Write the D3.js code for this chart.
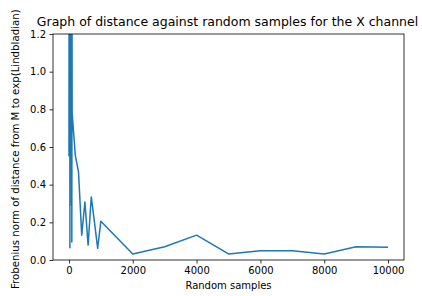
<!DOCTYPE html>
<html>
<head>
<meta charset="utf-8">
<script src="https://cdn.jsdelivr.net/npm/d3@7"></script>
<style>
  body { margin: 0; background: #fff; }
  svg text { font-family: "DejaVu Sans", sans-serif; fill: #000; }
</style>
</head>
<body>
<div id="graph"></div>
<script>
// samples (x) and Frobenius distance (y)
var samples = [1, 5, 10, 15, 20, 25, 30, 35, 40, 45, 50, 55, 60, 65, 70, 75, 80, 85, 90, 95, 100,
               200, 300, 400, 500, 600, 700, 800, 900, 1000,
               2000, 3000, 4000, 5000, 6000, 7000, 8000, 9000, 10000];
var distance = [0.55, 2.0, 0.7, 1.6, 0.6, 2.4, 0.065, 1.9, 0.75, 2.2, 0.6, 1.7, 0.9, 2.8, 0.62, 1.5, 0.29, 2.0, 0.095, 1.4, 0.78,
                0.555, 0.467, 0.132, 0.308, 0.079, 0.335, 0.2, 0.062, 0.206,
                0.032, 0.07, 0.132, 0.032, 0.049, 0.049, 0.032, 0.07, 0.068];
var xTicks = [0, 2000, 4000, 6000, 8000, 10000];
var yTicks = [0, 0.2, 0.4, 0.6, 0.8, 1.0, 1.2];

var width = 422, height = 296;
var margin = {top: 34, right: 18, bottom: 36, left: 53};
var w = width - margin.left - margin.right;
var h = height - margin.top - margin.bottom;

var x = d3.scaleLinear().domain([-500, 10500]).range([0, w]);
var y = d3.scaleLinear().domain([0, 1.2]).range([h, 0]);

var svg = d3.select("#graph").append("svg")
    .attr("width", width)
    .attr("height", height);

svg.append("defs").append("clipPath").attr("id", "clip")
  .append("rect").attr("width", w).attr("height", h);

var g = svg.append("g")
    .attr("transform", "translate(" + margin.left + "," + margin.top + ")");

var line = d3.line()
    .x(function(d, i) { return x(samples[i]); })
    .y(function(d) { return y(d); });

g.append("path")
    .datum(distance)
    .attr("clip-path", "url(#clip)")
    .attr("d", line)
    .style("fill", "none")
    .style("stroke", "#1f77b4")
    .style("stroke-width", 1.5)
    .style("stroke-linejoin", "round");

var xAxis = g.append("g")
    .attr("transform", "translate(0," + h + ")")
    .call(d3.axisBottom(x).tickValues(xTicks).tickSize(3.5).tickPadding(3.5).tickFormat(d3.format("d")));
var yAxis = g.append("g")
    .call(d3.axisLeft(y).tickValues(yTicks).tickSize(3.5).tickPadding(3.5).tickFormat(d3.format(".1f")));

[xAxis, yAxis].forEach(function(a) {
  a.select(".domain").remove();
  a.selectAll("text").style("font-size", "10px").style("font-family", "DejaVu Sans");
  a.selectAll("line").style("stroke", "#000").style("stroke-width", 0.8);
});

// frame
g.append("rect")
    .attr("width", w).attr("height", h)
    .style("fill", "none").style("stroke", "#000").style("stroke-width", 0.8);

svg.append("text")
    .attr("x", 227.5).attr("y", 26)
    .attr("text-anchor", "middle")
    .style("font-size", "12.5px")
    .text("Graph of distance against random samples for the X channel");

svg.append("text")
    .attr("x", margin.left + w / 2).attr("y", 289)
    .attr("text-anchor", "middle")
    .style("font-size", "10px")
    .text("Random samples");

svg.append("text")
    .attr("transform", "translate(19,289) rotate(-90)")
    .attr("text-anchor", "start")
    .style("font-size", "10.2px")
    .text("Frobenius norm of distance from M to exp(Lindbladian)");
</script>
</body>
</html>
